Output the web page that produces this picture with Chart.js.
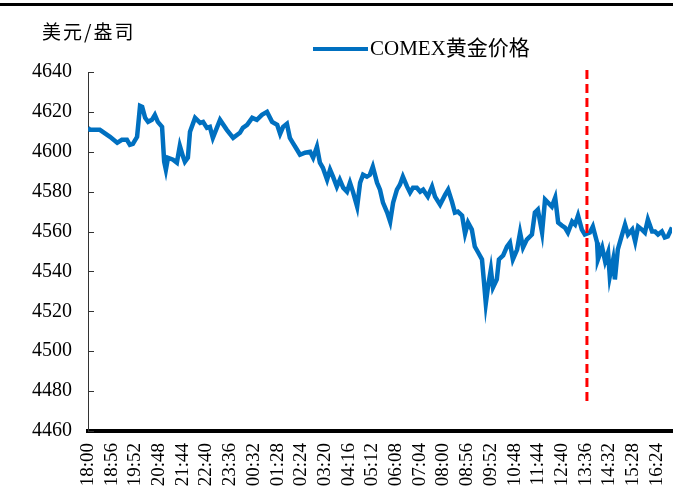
<!DOCTYPE html>
<html>
<head>
<meta charset="utf-8">
<script src="https://cdn.jsdelivr.net/npm/chart.js@4/dist/chart.umd.min.js"></script>
<style>
  html, body { margin: 0; padding: 0; background: #fff; }
  #wrap { width: 673px; height: 499px; }
</style>
</head>
<body>
<div id="wrap"><canvas id="goldChart" width="673" height="499"></canvas></div>
<script>
// x labels every 56 minutes, starting 18:00
const tickLabels = ['18:00', '18:56', '19:52', '20:48', '21:44', '22:40', '23:36', '00:32', '01:28',
    '02:24', '03:20', '04:16', '05:12', '06:08', '07:04', '08:00', '08:56', '09:52', '10:48',
    '11:44', '12:40', '13:36', '14:32', '15:28', '16:24'];
const tickStep = 56;
const sessionLength = 1380; // 18:00 -> 17:00

// minutes after 18:00 and COMEX gold price (USD/oz)
const minutes = [0, 5, 28, 52, 69, 80, 92, 99, 106, 116, 123, 128, 135, 142, 151, 158, 165, 175, 180, 184,
    189, 201, 210, 217, 224, 229, 236, 241, 253, 265, 272, 281, 288, 295, 312, 328, 343, 359, 366, 376,
    388, 399, 411, 423, 435, 447, 454, 461, 470, 477, 484, 494, 501, 513, 525, 532, 541, 548, 555, 565,
    572, 579, 588, 595, 603, 612, 619, 626, 636, 643, 650, 659, 666, 673, 683, 690, 697, 707, 714, 721,
    730, 737, 744, 754, 761, 768, 777, 785, 792, 803, 813, 820, 832, 844, 851, 860, 867, 874, 884, 891,
    898, 907, 914, 922, 931, 936, 940, 945, 952, 957, 966, 971, 981, 990, 997, 1004, 1014, 1021, 1028, 1037,
    1049, 1056, 1063, 1073, 1080, 1087, 1096, 1104, 1111, 1120, 1127, 1134, 1144, 1151, 1158, 1167, 1174, 1186, 1193, 1203,
    1205, 1215, 1222, 1229, 1233, 1241, 1245, 1252, 1262, 1269, 1276, 1286, 1293, 1300, 1309, 1316, 1323, 1333, 1340, 1347,
    1356, 1363, 1370, 1380];
const prices = [4612, 4611, 4611, 4607.5, 4604.5, 4606, 4606, 4603.5, 4604, 4607.5, 4623, 4622.5, 4617, 4615, 4616, 4618.5, 4615, 4612.5, 4595, 4591,
    4597, 4596, 4594.5, 4603, 4598, 4595, 4597, 4610, 4617, 4614.5, 4615, 4612, 4612.5, 4607, 4616, 4611, 4607, 4609.5, 4612, 4613.5,
    4617, 4616, 4618.5, 4620, 4615, 4613.5, 4609, 4612.5, 4614, 4607, 4604.5, 4601, 4598.5, 4599.5, 4600, 4597, 4602.5, 4594.5, 4592, 4586,
    4591, 4587.5, 4582.5, 4586, 4582, 4580, 4584.5, 4580, 4572.5, 4584.5, 4588.5, 4587.5, 4588.5, 4592.5, 4584.5, 4581, 4574.5, 4569.5, 4565, 4574.5,
    4581, 4583.5, 4587.5, 4582.5, 4579.5, 4582, 4582, 4580, 4581, 4577.5, 4582.5, 4577.5, 4573.5, 4578.5, 4581, 4575, 4569.5, 4570, 4568, 4559,
    4564.5, 4561, 4552.5, 4549.5, 4546, 4534, 4524, 4532, 4541, 4532, 4536, 4546, 4548, 4552.5, 4554.5, 4546, 4551, 4559.5, 4552, 4556,
    4558.5, 4569.5, 4571, 4559.5, 4576, 4574.5, 4572.5, 4577, 4564.5, 4563, 4562, 4559.5, 4565, 4563.5, 4568, 4561, 4558.5, 4559.5, 4562.5, 4554.5,
    4546, 4552, 4545, 4549.5, 4537.5, 4546, 4536, 4551, 4558.5, 4563.5, 4558.5, 4561, 4555, 4562.5, 4561, 4559.5, 4566, 4560, 4560, 4558.5,
    4560, 4557, 4557.5, 4562];

const seriesName = 'COMEX黄金价格';
const unitLabel = '美元/盎司';
const yMin = 4460;
const yMax = 4640;
const yStep = 20;

// red dashed marker (around 13:39)
const markerMinute = 1179;
const markerTop = 4641;
const markerBottom = 4474;

const serif = '"Liberation Serif", "Times New Roman", serif';
const cjk = '"Noto Sans CJK SC", sans-serif';

const extras = {
    id: 'extras',
    afterDraw(chart) {
        const ctx = chart.ctx;
        const xs = chart.scales.x;
        const ys = chart.scales.y;
        ctx.save();

        // page rule at top
        ctx.strokeStyle = '#000';
        ctx.lineWidth = 3;
        ctx.beginPath();
        ctx.moveTo(0, 4.5);
        ctx.lineTo(chart.width, 4.5);
        ctx.stroke();

        // inside tick marks on the value axis
        ctx.strokeStyle = '#333';
        ctx.lineWidth = 1;
        ys.ticks.forEach(t => {
            const y = Math.round(ys.getPixelForValue(t.value)) + 0.5;
            ctx.beginPath();
            ctx.moveTo(chart.chartArea.left, y);
            ctx.lineTo(chart.chartArea.left + 6, y);
            ctx.stroke();
        });

        // red dashed marker
        const mx = xs.getPixelForValue(markerMinute);
        ctx.strokeStyle = '#FF0000';
        ctx.lineWidth = 3;
        ctx.setLineDash([9, 5]);
        ctx.beginPath();
        ctx.moveTo(mx, ys.getPixelForValue(markerTop));
        ctx.lineTo(mx, ys.getPixelForValue(markerBottom));
        ctx.stroke();
        ctx.setLineDash([]);

        // unit label
        ctx.fillStyle = '#000';
        ctx.font = '19px ' + cjk;
        ctx.textAlign = 'left';
        ctx.textBaseline = 'middle';
        ctx.letterSpacing = '2px';
        ctx.fillText(unitLabel, 42, 32);
        ctx.letterSpacing = '0px';

        // legend
        ctx.strokeStyle = '#0070C0';
        ctx.lineWidth = 4;
        ctx.beginPath();
        ctx.moveTo(313, 49);
        ctx.lineTo(368, 49);
        ctx.stroke();
        ctx.font = '21px "Liberation Serif", ' + cjk;
        ctx.fillText(seriesName, 370, 49);

        ctx.restore();
    }
};

const ctx = document.getElementById('goldChart').getContext('2d');
const goldChart = new Chart(ctx, {
    type: 'line',
    data: {
        datasets: [{
            label: seriesName,
            data: minutes.map((m, i) => ({ x: m, y: prices[i] })),
            borderColor: '#0070C0',
            borderWidth: 4.5,
            pointRadius: 0,
            tension: 0,
            fill: false
        }]
    },
    options: {
        responsive: false,
        animation: false,
        layout: { padding: { top: 72, right: 1, left: 0, bottom: 0 } },
        plugins: {
            legend: { display: false },
            tooltip: { enabled: false }
        },
        scales: {
            x: {
                type: 'linear',
                min: 0,
                max: sessionLength,
                afterBuildTicks: scale => {
                    scale.ticks = tickLabels.map((_, i) => ({ value: i * tickStep }));
                },
                afterFit: scale => {
                    scale.height = 68;
                    scale.paddingLeft = 0;
                    scale.paddingRight = 0;
                },
                ticks: {
                    autoSkip: false,
                    minRotation: 90,
                    maxRotation: 90,
                    padding: 12,
                    color: '#000',
                    font: { family: serif, size: 19 },
                    callback: (value, index) => tickLabels[index]
                },
                grid: { display: false, drawTicks: false },
                border: { display: true, color: '#000', width: 4 }
            },
            y: {
                min: yMin,
                max: yMax,
                afterFit: scale => {
                    scale.width = 88;
                    scale.paddingTop = 0;
                    scale.paddingBottom = 0;
                },
                ticks: {
                    stepSize: yStep,
                    padding: 16,
                    color: '#000',
                    font: { family: serif, size: 20 },
                    callback: value => String(value)
                },
                grid: { display: false, drawTicks: false },
                border: { display: true, color: '#333', width: 1 }
            }
        }
    },
    plugins: [extras]
});
</script>
</body>
</html>
